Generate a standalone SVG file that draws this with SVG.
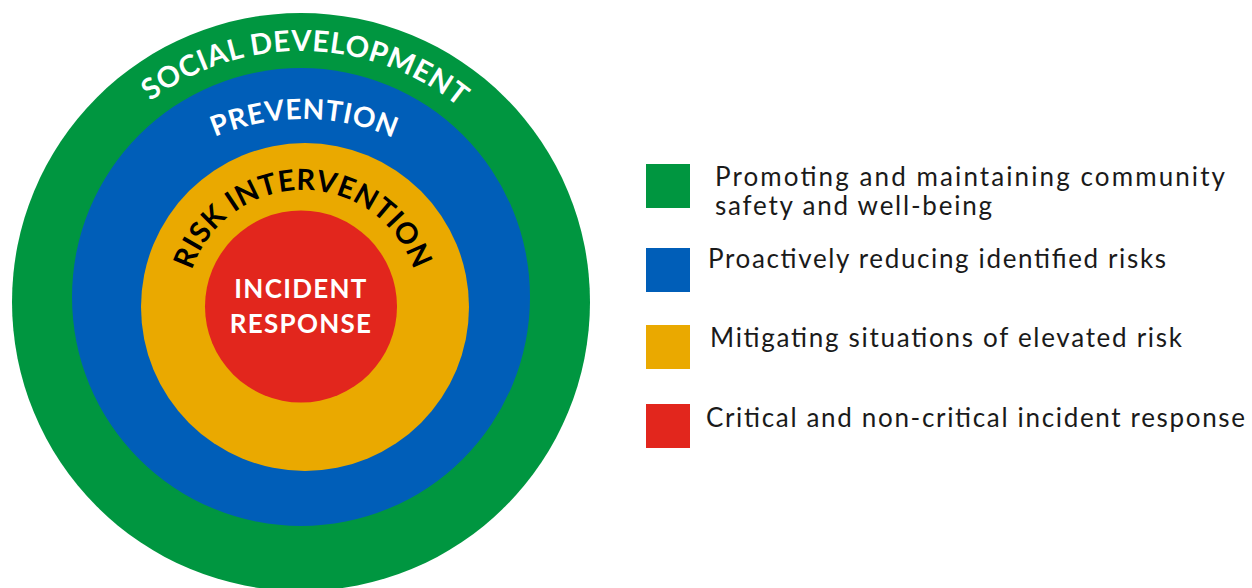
<svg xmlns="http://www.w3.org/2000/svg" width="1252" height="588" viewBox="0 0 1252 588">
<style>
.arc{font-family:Lato,"Open Sans","DejaVu Sans",sans-serif;font-weight:700;}
.w{fill:#ffffff;}
.k{fill:#000000;}
.leg{font-family:Lato,"Noto Sans","DejaVu Sans",sans-serif;font-size:26px;fill:#1a1a1a;}
.c{font-family:Lato,"Open Sans","DejaVu Sans",sans-serif;font-weight:700;font-size:26px;fill:#ffffff;text-anchor:middle;letter-spacing:1.3px;}
</style>
<defs>
<path id="pSocial" d="M 50 302 A 251 251 0 0 1 552 302"/>
<path id="pPrev" d="M 78 344 A 225 225 0 0 1 528 344"/>
<path id="pRisk" d="M 186 307 A 117 117 0 0 1 420 307"/>
</defs>
<rect width="1252" height="588" fill="#ffffff"/>
<g id="social-development">
<circle cx="301" cy="302" r="289" fill="#009640"/>
<text class="arc w" font-size="29" letter-spacing="0.5"><textPath href="#pSocial" startOffset="50.6%" text-anchor="middle">SOCIAL DEVELOPMENT</textPath></text>
</g>
<g id="prevention">
<circle cx="301" cy="297" r="229" fill="#005EB8"/>
<text class="arc w" font-size="28" letter-spacing="0.6"><textPath href="#pPrev" startOffset="50.2%" text-anchor="middle">PREVENTION</textPath></text>
</g>
<g id="risk-intervention">
<circle cx="305" cy="307" r="164" fill="#EAA900"/>
<text class="arc k" font-size="29" letter-spacing="0.5"><textPath href="#pRisk" startOffset="50%" text-anchor="middle">RISK INTERVENTION</textPath></text>
</g>
<g id="incident-response">
<circle cx="301" cy="306.5" r="96" fill="#E2261D"/>
<text class="c" x="301" y="298">INCIDENT</text>
<text class="c" x="301" y="333">RESPONSE</text>
</g>
<g id="legend">
<g id="legend-green">
<rect x="646" y="164" width="44" height="44" fill="#009640"/>
<text class="leg" x="715" y="186" textLength="510">Promoting and maintaining community</text>
<text class="leg" x="715" y="215" textLength="277">safety and well-being</text>
</g>
<g id="legend-blue">
<rect x="646" y="248" width="44" height="44" fill="#005EB8"/>
<text class="leg" x="708" y="268" textLength="458">Proactively reducing identified risks</text>
</g>
<g id="legend-orange">
<rect x="646" y="325" width="44" height="44" fill="#EAA900"/>
<text class="leg" x="710" y="347" textLength="472">Mitigating situations of elevated risk</text>
</g>
<g id="legend-red">
<rect x="646" y="404" width="44" height="44" fill="#E2261D"/>
<text class="leg" x="706" y="427" textLength="539">Critical and non-critical incident response</text>
</g>
</g>
<g id="connectors"/>
</svg>
